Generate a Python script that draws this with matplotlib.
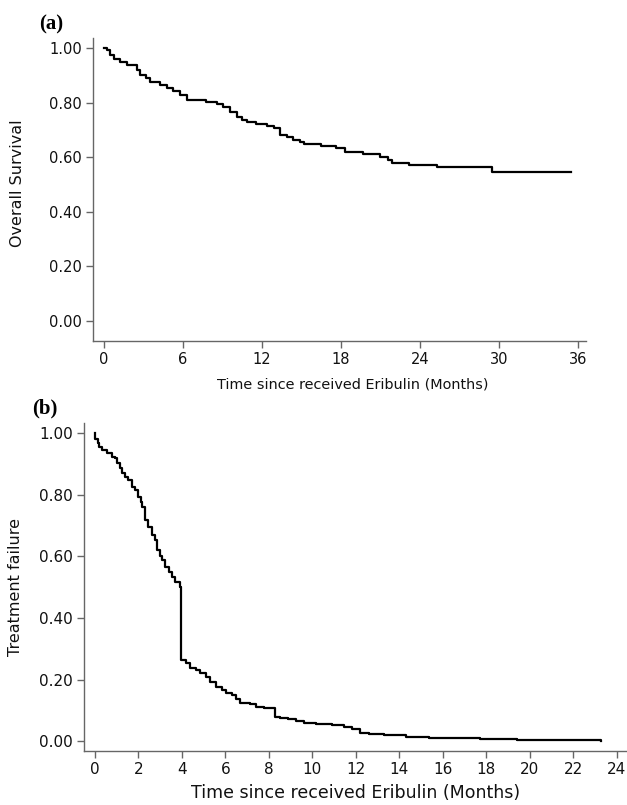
import matplotlib
matplotlib.use("Agg")
import matplotlib.pyplot as plt

# ---- data ----
os_time = [0, 0.26, 0.51, 0.76, 1.27, 1.77, 2.53, 2.78, 3.2, 3.54, 4.29, 4.8, 5.3,
           5.8, 6.3, 7.3, 7.8, 8.6, 9.1, 9.6, 10.1, 10.5, 10.9, 11.6, 12.4, 12.9,
           13.4, 13.9, 14.4, 14.9, 15.2, 16.5, 17.6, 18.3, 19.7, 21.0, 21.6, 21.9,
           23.2, 25.3, 29.5, 35.5]
os_surv = [1.0, 0.993, 0.974, 0.962, 0.95, 0.938, 0.919, 0.901, 0.89, 0.877, 0.864,
           0.856, 0.844, 0.828, 0.812, 0.81, 0.803, 0.797, 0.785, 0.767, 0.748, 0.738,
           0.728, 0.724, 0.714, 0.706, 0.681, 0.673, 0.663, 0.657, 0.648, 0.642,
           0.635, 0.620, 0.611, 0.600, 0.592, 0.580, 0.573, 0.563, 0.548, 0.548]

tf_time = [0, 0.01, 0.15, 0.2, 0.31, 0.54, 0.77, 0.92, 1.0, 1.15, 1.23, 1.38, 1.53,
           1.69, 1.85, 2.0, 2.1, 2.15, 2.29, 2.45, 2.6, 2.76, 2.83, 3.0, 3.07, 3.23,
           3.42, 3.53, 3.69, 3.92, 3.96, 4.19, 4.38, 4.65, 4.84, 5.12, 5.3, 5.58,
           5.85, 6.04, 6.31, 6.5, 6.68, 7.14, 7.42, 7.79, 8.3, 8.53, 8.9, 9.26, 9.63,
           10.18, 10.92, 11.47, 11.84, 12.2, 12.58, 13.3, 14.3, 15.35, 17.7, 19.4, 23.27]
tf_surv = [1.0, 0.98, 0.97, 0.957, 0.946, 0.935, 0.924, 0.919, 0.903, 0.886, 0.870,
           0.859, 0.848, 0.827, 0.815, 0.794, 0.778, 0.762, 0.718, 0.697, 0.670, 0.654,
           0.621, 0.600, 0.589, 0.567, 0.551, 0.534, 0.518, 0.500, 0.265, 0.253, 0.237,
           0.231, 0.221, 0.210, 0.194, 0.177, 0.167, 0.156, 0.150, 0.136, 0.123, 0.121,
           0.112, 0.107, 0.080, 0.075, 0.071, 0.066, 0.060, 0.055, 0.053, 0.047, 0.039,
           0.028, 0.024, 0.020, 0.015, 0.012, 0.0075, 0.003, 0.002]

os_xticks = [0, 6, 12, 18, 24, 30, 36]
tf_xticks = list(range(0, 25, 2))
yticks = [0.0, 0.2, 0.4, 0.6, 0.8, 1.0]
ytick_labels = ["0.00", "0.20", "0.40", "0.60", "0.80", "1.00"]
xlabel = "Time since received Eribulin (Months)"

W, H = 627, 805
fig = plt.figure(figsize=(W / 100, H / 100), dpi=100)
plt.rcParams['font.family'] = ['DejaVu Sans']

spine_col = "#666666"


def px_axes(x0, y0, x1, y1):
    return fig.add_axes([x0 / W, 1 - y1 / H, (x1 - x0) / W, (y1 - y0) / H])


def style(ax, fs):
    for s in ("top", "right"):
        ax.spines[s].set_visible(False)
    for s in ("left", "bottom"):
        ax.spines[s].set_color(spine_col)
        ax.spines[s].set_linewidth(1.0)
    ax.tick_params(direction="out", length=5, width=1.0, color=spine_col,
                   labelsize=fs, labelcolor="#111111", pad=3)
    ax.set_yticks(yticks)
    ax.set_yticklabels(ytick_labels)


# ---- panel (a) ----
ax1 = px_axes(93, 38, 586, 341)
ax1.step(os_time, os_surv, where="post", color="black", lw=1.6)
ax1.set_xlim(-0.797, 36.6)
ax1.set_ylim(-0.0733, 1.0377)
style(ax1, 10.5)
ax1.set_xticks(os_xticks)
ax1.set_xlabel(xlabel, fontsize=10.4, color="#111111")
ax1.xaxis.set_label_coords(0.527, -0.145)
ax1.xaxis.label.set_verticalalignment("center")
ax1.set_ylabel("Overall Survival", fontsize=11.5, color="#111111")
ax1.yaxis.set_label_coords(-0.154, 0.52)
ax1.yaxis.label.set_verticalalignment("center")
fig.text(51 / W, 1 - 24 / H, "(a)", ha="center", va="center", fontsize=15,
         fontweight="bold", family="Liberation Serif")

# ---- panel (b) ----
ax2 = px_axes(84, 423, 627, 751)
ax2.step(tf_time, tf_surv, where="post", color="black", lw=1.6)
ax2.set_xlim(-0.506, 24.47)
ax2.set_ylim(-0.0315, 1.0334)
style(ax2, 11)
ax2.set_xticks(tf_xticks)
ax2.set_xlabel(xlabel, fontsize=12.5, color="#111111")
ax2.xaxis.set_label_coords(0.501, -0.128)
ax2.xaxis.label.set_verticalalignment("center")
ax2.set_ylabel("Treatment failure", fontsize=11.5, color="#111111")
ax2.yaxis.set_label_coords(-0.127, 0.50)
ax2.yaxis.label.set_verticalalignment("center")
fig.text(45 / W, 1 - 408 / H, "(b)", ha="center", va="center", fontsize=15,
         fontweight="bold", family="Liberation Serif")

fig.savefig("out.png", dpi=100)
